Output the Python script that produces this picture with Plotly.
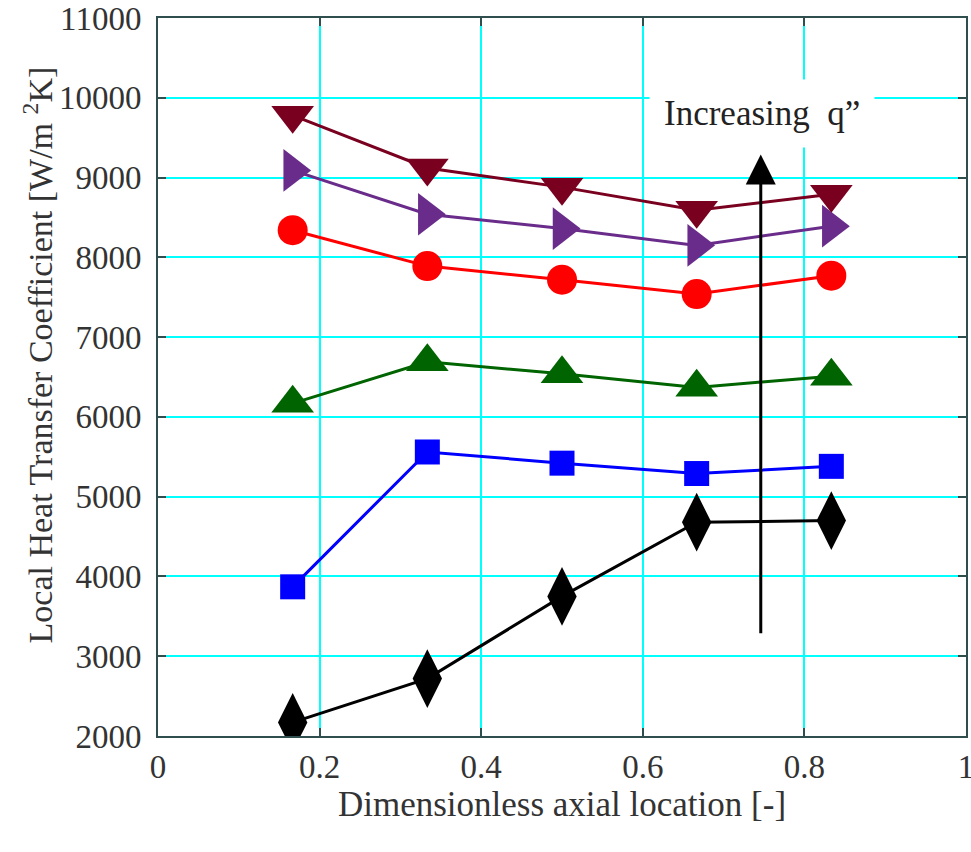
import plotly.graph_objects as go

x_loc = [1/6, 2/6, 3/6, 4/6, 5/6]

s_darkred = [9780, 9120, 8880, 8590, 8790]
s_purple = [9090, 8540, 8360, 8150, 8390]
s_red = [8340, 7890, 7720, 7540, 7770]
s_green = [6170, 6690, 6540, 6370, 6510]
s_blue = [3870, 5560, 5420, 5290, 5380]
s_black = [2170, 2720, 3750, 4680, 4700]

x_ticks = [0, 0.2, 0.4, 0.6, 0.8, 1]
x_tick_text = ["0", "0.2", "0.4", "0.6", "0.8", "1"]
y_ticks = [2000, 3000, 4000, 5000, 6000, 7000, 8000, 9000, 10000, 11000]
y_tick_text = [str(v) for v in y_ticks]

series = [
    (s_black, "#000000", "diamond-tall", 42),
    (s_blue, "#0000ff", "square", 25),
    (s_green, "#006400", "triangle-up", 37),
    (s_red, "#ff0000", "circle", 30),
    (s_purple, "#6a2c8a", "triangle-right", 37),
    (s_darkred, "#7a0020", "triangle-down", 37),
]

fig = go.Figure()
for vals, col, sym, sz in series:
    fig.add_trace(go.Scatter(
        x=x_loc, y=vals, mode="lines+markers",
        line=dict(color=col, width=3),
        marker=dict(symbol=sym, size=sz, color=col, line=dict(width=0)),
        showlegend=False,
    ))

font_family = "Liberation Serif, Times New Roman, serif"
axis_col = "#2f4f4f"

fig.update_layout(
    width=971, height=852,
    margin=dict(l=158, r=5, t=18, b=116),
    paper_bgcolor="white", plot_bgcolor="white",
    font=dict(family=font_family, size=33, color="#333333"),
    xaxis=dict(
        range=[0, 1], tickvals=x_ticks, ticktext=x_tick_text,
        showgrid=True, gridcolor="#00ffff", gridwidth=1.5,
        showline=True, linecolor=axis_col, linewidth=2, mirror="ticks",
        ticks="inside", ticklen=8, tickcolor=axis_col, tickwidth=1.5,
        zeroline=False, tickfont=dict(size=33), ticklabeloverflow="allow",
        automargin=False,
        title=dict(text="Dimensionless axial location [-]", font=dict(size=35), standoff=6),
    ),
    yaxis=dict(
        range=[2000, 11000], tickvals=y_ticks, ticktext=y_tick_text,
        showgrid=True, gridcolor="#00ffff", gridwidth=1.5,
        showline=True, linecolor=axis_col, linewidth=2, mirror="ticks",
        ticks="inside", ticklen=8, tickcolor=axis_col, tickwidth=1.5,
        zeroline=False, tickfont=dict(size=33), ticklabelstandoff=8,
        automargin=False,
    ),
)

fig.add_annotation(
    x=-0.1485, y=0.53, xref="paper", yref="paper", xanchor="center", yanchor="middle",
    text="Local Heat Transfer Coefficient [W/m <sup>2</sup>K]", textangle=-90,
    showarrow=False, font=dict(size=34, color="#333333", family=font_family),
)

fig.add_annotation(
    x=0.746, y=9290, ax=0.746, ay=3270, xref="x", yref="y", axref="x", ayref="y",
    text="", showarrow=True, arrowhead=2, arrowsize=2, arrowwidth=3, arrowcolor="black",
)
fig.add_annotation(
    x=0.747, y=9800, xref="x", yref="y", text="Increasing  q\u201d",
    showarrow=False, bgcolor="white", borderpad=14,
    font=dict(size=35, color="#222222", family=font_family),
)

fig.write_html("out.html")
